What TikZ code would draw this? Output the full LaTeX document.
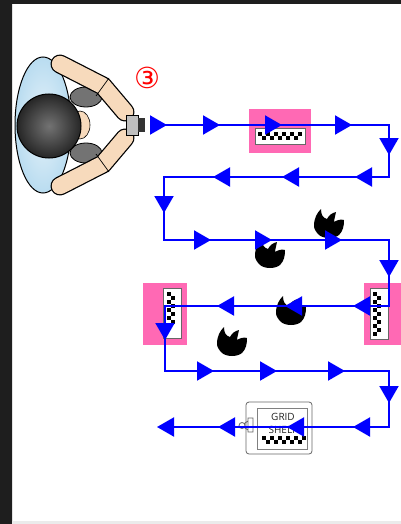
\documentclass[tikz,border=0pt]{standalone}
\usepackage{fontspec}
\usetikzlibrary{arrows.meta,decorations.markings}
\newfontfamily\shelffont{Open Sans}
\newfontfamily\circfont{DejaVu Sans}
\definecolor{routeblue}{RGB}{0,0,255}
\definecolor{tagpink}{RGB}{255,105,180}
\definecolor{skin}{RGB}{247,218,188}
\definecolor{chairblue}{RGB}{185,220,240}
\definecolor{darkframe}{RGB}{30,30,30}

\begin{document}
\begin{tikzpicture}[x=1pt,y=-1pt,
    font=\shelffont,
    >={Triangle[length=17pt,width=19pt]} % Pfeilspitzen des Weges
    ]
    \tikzset{
        Weg/.style={routeblue,line width=2pt},
        Pfeil/.style={postaction={decorate,decoration={markings,
            mark=at position #1 with {\arrow{>}}}}},
        Etikett/.style={fill=tagpink,inner sep=0pt},
        Schild/.style={draw=black!60,fill=white,line width=.7pt,inner sep=0pt},
        claw/.pic={
            \fill[black] (-15,2) .. controls (-15,-6) and (-12,-11) .. (-8,-15)
                .. controls (-8,-9) and (-6,-6) .. (-2,-5)
                .. controls (0,-9) and (3,-11) .. (7,-12)
                .. controls (6,-7) and (5,-4) .. (5,-2)
                .. controls (8,-4) and (12,-5) .. (15,-4)
                .. controls (15,2) and (14,7) .. (10,11)
                .. controls (5,15) and (-5,15) .. (-10,11)
                .. controls (-13,8) and (-15,5) .. (-15,2) -- cycle;
        }
    }
    \useasboundingbox (0,0) rectangle (401,524);
    \fill[white] (0,0) rectangle (401,524);
    \fill[darkframe] (0,0) rectangle (401,4) (0,0) rectangle (12,524);
    \fill[black!8] (12,521) rectangle (401,524);

    % Person mit Kamera
    \shade[draw=black,line width=1pt,inner color=chairblue!35,outer color=chairblue]
        (43,125) ellipse [x radius=28, y radius=68];
    \draw[fill=black!55,line width=.8pt] (86,97) ellipse [x radius=16, y radius=10]
                                         (86,153) ellipse [x radius=16, y radius=10];
    \draw[fill=skin,line width=.6pt] (80,125) ellipse [x radius=10, y radius=14];
    \shade[draw=black,line width=1pt,inner color=black!55,outer color=black!85]
        (49,126) circle (32);
    \foreach \s in {1,-1} {
        \draw[black,line width=19pt,line cap=round,line join=round]
            (60,{125-61*\s}) -- (103,{125-39*\s}) -- (125,{125-13*\s});
        \draw[skin,line width=16.5pt,line cap=round,line join=round]
            (60,{125-61*\s}) -- (103,{125-39*\s}) -- (125,{125-13*\s});
        \draw[line width=.7pt] (96,{125-29*\s}) -- (109,{125-47*\s});
    }
    \draw[fill=black!25,line width=.9pt] (126,115) rectangle (138,135);
    \fill[black!80] (138,118) rectangle (145,132);
    \node[text=red,font=\circfont\fontsize{29}{29}\selectfont] (nr) at (147,78) {③};

    % Regale mit Etiketten
    \node[Etikett,minimum width=62,minimum height=44] (e1) at (280,131) {};
    \node[Schild,minimum width=50,minimum height=16] (s1) at (280,136) {};
    \node[Etikett,minimum width=44,minimum height=62] (e2) at (165,314) {};
    \node[Schild,minimum width=18,minimum height=50] (s2) at (172,313) {};
    \node[Etikett,minimum width=37,minimum height=62] (e3) at (382.5,314) {};
    \node[Schild,minimum width=18,minimum height=51] (s3) at (379,313.5) {};
    \foreach \i in {0,...,10}
        \fill (258+4*\i,{132+4*mod(\i,2)}) rectangle ++(4,4);
    \foreach \i in {0,...,7}
        \fill ({167+4*mod(\i,2)},292+4*\i) rectangle ++(4,4);
    \foreach \i in {0,...,10}
        \fill ({373+4*mod(\i,2)},292+4*\i) rectangle ++(4,4);

    % Fussabdruecke
    \pic at (270,254) {claw};
    \pic at (329,224) {claw};
    \pic at (291,311) {claw};
    \pic at (232,342) {claw};

    % Gitterregal
    \node[draw=black!60,rounded corners=3pt,fill=white,line width=.8pt,
          minimum width=66,minimum height=52] (gs) at (279,428) {};
    \node[draw=black!50,line width=.8pt,minimum width=50,minimum height=41] (gi) at (282,428.5) {};
    \node[text=black!85,font=\shelffont\fontsize{10}{12.5}\selectfont,align=center]
        (gt) at (283,423.5) {GRID\\SHELF};
    \foreach \i in {0,...,10}
        \fill (262+4*\i,{436+4*mod(\i,2)}) rectangle ++(4,4);
    \draw[black!60,line width=.8pt] (248,418) rectangle (253,432)
        (248,421) -- (245,423) -- (245,428) -- (248,430)
        (242,425.5) circle (3);

    % Weg
    \coordinate (s)  at (150,125);
    \coordinate (r1) at (389,125);
    \coordinate (r2) at (389,177);
    \coordinate (l2) at (164,177);
    \coordinate (l3) at (164,240);
    \coordinate (r3) at (389,240);
    \coordinate (r4) at (389,306);
    \coordinate (l4) at (165,306);
    \coordinate (l5) at (165,371);
    \coordinate (r5) at (389,371);
    \coordinate (r6) at (389,427);
    \coordinate (e)  at (157,427);

    \draw[Weg,->] (s) -- (r1) -- (r2) -- (l2) -- (l3) -- (r3) -- (r4)
                  -- (l4) -- (l5) -- (r5) -- (r6) -- (e);
    \path[Weg,Pfeil/.list={17pt,70pt,132pt,202pt}] (s) -- (r1);
    \path[Weg,Pfeil=30pt] (r1) -- (r2);
    \path[Weg,Pfeil/.list={34pt,107pt,176pt}] (r2) -- (l2);
    \path[Weg,Pfeil=36pt] (l2) -- (l3);
    \path[Weg,Pfeil/.list={47pt,108pt,178pt}] (l3) -- (r3);
    \path[Weg,Pfeil=37pt] (r3) -- (r4);
    \path[Weg,Pfeil/.list={36pt,104pt,172pt}] (r4) -- (l4);
    \path[Weg,Pfeil=34pt] (l4) -- (l5);
    \path[Weg,Pfeil/.list={49pt,112pt,180pt}] (l5) -- (r5);
    \path[Weg,Pfeil=32pt] (r5) -- (r6);
    \path[Weg,Pfeil/.list={36pt,102pt,171pt}] (r6) -- (e);
\end{tikzpicture}
\end{document}
